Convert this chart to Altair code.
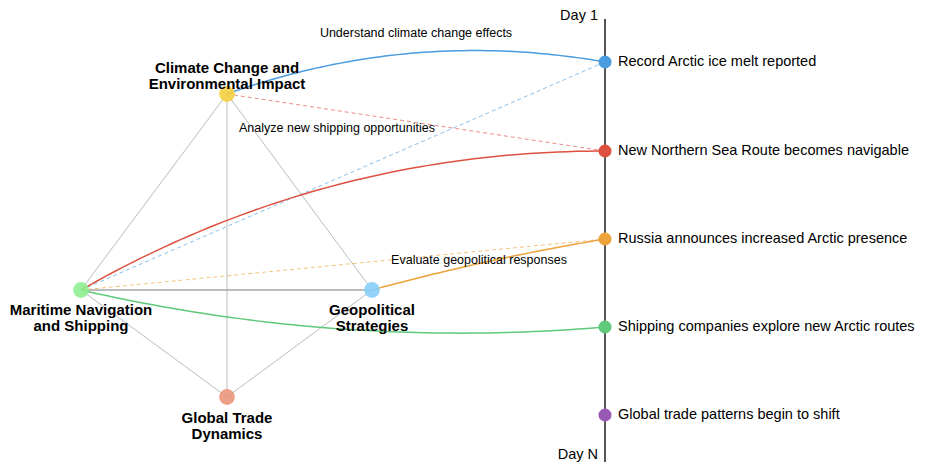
import altair as alt
import pandas as pd
import numpy as np

# ---------------- data ----------------
node_ids = ["climate", "maritime", "geopolitical", "trade"]
node_labels = [
    "Climate Change and\nEnvironmental Impact",
    "Maritime Navigation\nand Shipping",
    "Geopolitical\nStrategies",
    "Global Trade\nDynamics",
]
node_colors = ["#f4d03f", "#90ee90", "#87cefa", "#e9967a"]

event_labels = [
    "Record Arctic ice melt reported",
    "New Northern Sea Route becomes navigable",
    "Russia announces increased Arctic presence",
    "Shipping companies explore new Arctic routes",
    "Global trade patterns begin to shift",
]
event_colors = ["#4a9be0", "#de5040", "#eca33a", "#60c97a", "#9b59b6"]

edge_a = ["climate", "climate", "climate", "maritime", "maritime", "geopolitical"]
edge_b = ["maritime", "geopolitical", "trade", "geopolitical", "trade", "trade"]
edge_w = [1, 1, 1, 2, 1, 1]

link_source = ["climate", "maritime", "climate", "maritime", "maritime", "geopolitical", "maritime"]
link_event = [0, 0, 1, 1, 2, 2, 3]
link_style = ["solid", "dashed", "dashed", "solid", "dashed", "solid", "solid"]
link_label = ["Understand climate change effects", "", "", "Analyze new shipping opportunities",
              "", "Evaluate geopolitical responses", ""]

timeline_ends = ["Day 1", "Day N"]

# ---------------- layout ----------------
node_x = [227, 81, 372, 227]
node_y = [94, 290, 290, 397]
node_label_dy = [-26, 20, 20, 21]
timeline_x = 605
event_y = [62, 151, 239, 327, 415]
timeline_y = [19, 462]
day_label_y = [16, 455]
link_bend = [50, 0, 0, 72, 0, 6, -41]
link_label_xy = {0: (416, 33), 3: (337, 128), 5: (479, 260)}

W, H = 914, 470
xs = alt.Scale(domain=[8, 8 + W], nice=False, zero=False)
ys = alt.Scale(domain=[8, 8 + H], nice=False, zero=False, reverse=True)
X = lambda f="x": alt.X(f"{f}:Q", scale=xs, axis=None)
Y = lambda f="y": alt.Y(f"{f}:Q", scale=ys, axis=None)

pos = {n: (node_x[i], node_y[i]) for i, n in enumerate(node_ids)}

# grey edges
edge_rows = []
for i, (a, b) in enumerate(zip(edge_a, edge_b)):
    for k, n in enumerate((a, b)):
        edge_rows.append({"edge": i, "k": k, "x": pos[n][0], "y": pos[n][1], "w": edge_w[i]})
edges_df = pd.DataFrame(edge_rows)

# links
solid_rows, dash_rows, lab_rows = [], [], []
ts = np.linspace(0, 1, 60)
for i, (s, e) in enumerate(zip(link_source, link_event)):
    p0 = np.array(pos[s], dtype=float)
    p2 = np.array([timeline_x, event_y[e]], dtype=float)
    d = p2 - p0
    d = d / np.linalg.norm(d)
    perp = np.array([d[1], -d[0]])
    c = (p0 + p2) / 2 + link_bend[i] * perp
    col = event_colors[e]
    if link_style[i] == "solid":
        for t in ts:
            p = (1 - t) ** 2 * p0 + 2 * t * (1 - t) * c + t ** 2 * p2
            solid_rows.append({"link": i, "t": t, "x": p[0], "y": p[1], "color": col})
    else:
        for t in (0.0, 1.0):
            p = (1 - t) * p0 + t * p2
            dash_rows.append({"link": i, "t": t, "x": p[0], "y": p[1], "color": col})
    if link_label[i]:
        lx, ly = link_label_xy[i]
        lab_rows.append({"x": lx, "y": ly, "text": link_label[i]})
solid_df = pd.DataFrame(solid_rows)
dash_df = pd.DataFrame(dash_rows)
lab_df = pd.DataFrame(lab_rows)

nodes_df = pd.DataFrame({
    "x": node_x, "y": node_y, "color": node_colors, "label": node_labels,
    "ly": [y + dy for y, dy in zip(node_y, node_label_dy)],
})
events_df = pd.DataFrame({
    "x": [timeline_x] * len(event_labels), "y": event_y,
    "color": event_colors, "label": event_labels,
})
tl_df = pd.DataFrame({"x": [timeline_x], "y": [timeline_y[0]], "y2": [timeline_y[1]]})
day_df = pd.DataFrame({"x": [timeline_x - 7] * 2, "y": day_label_y, "text": timeline_ends})

FONT = "Liberation Sans"

edges = alt.Chart(edges_df).mark_line(color="#aaaaaa", opacity=0.8).encode(
    x=X(), y=Y(), detail="edge:N", order="k:Q",
    strokeWidth=alt.StrokeWidth("w:Q", scale=None))

dashed = alt.Chart(dash_df).mark_line(strokeWidth=1, strokeDash=[4, 3], opacity=0.65).encode(
    x=X(), y=Y(), detail="link:N", order="t:Q", color=alt.Color("color:N", scale=None))

solid = alt.Chart(solid_df).mark_line(strokeWidth=1.5).encode(
    x=X(), y=Y(), detail="link:N", order="t:Q", color=alt.Color("color:N", scale=None))

timeline = alt.Chart(tl_df).mark_rule(color="#555555", strokeWidth=2).encode(
    x=X(), y=Y(), y2="y2:Q")

nodes = alt.Chart(nodes_df).mark_circle(size=250, opacity=0.9).encode(
    x=X(), y=Y(), color=alt.Color("color:N", scale=None))

node_text = alt.Chart(nodes_df).mark_text(
    font=FONT, fontSize=15, fontWeight="bold", lineBreak="\n", lineHeight=16,
    align="center", baseline="middle", color="#000000").encode(
    x=X(), y=Y("ly"), text="label:N")

event_dots = alt.Chart(events_df).mark_circle(size=170, opacity=1).encode(
    x=X(), y=Y(), color=alt.Color("color:N", scale=None))

event_text = alt.Chart(events_df).mark_text(
    font=FONT, fontSize=14.5, align="left", baseline="middle", dx=13, color="#000000").encode(
    x=X(), y=Y(), text="label:N")

link_text = alt.Chart(lab_df).mark_text(
    font=FONT, fontSize=12.5, align="center", baseline="middle", color="#000000").encode(
    x=X(), y=Y(), text="text:N")

day_text = alt.Chart(day_df).mark_text(
    font=FONT, fontSize=14.5, align="right", baseline="middle", color="#000000").encode(
    x=X(), y=Y(), text="text:N")

chart = alt.layer(
    edges, dashed, solid, timeline, nodes, event_dots, node_text, event_text, link_text, day_text
).properties(width=W, height=H, padding=0, autosize="none").configure_view(stroke=None)

chart.save("out.html", embed_options={"renderer": "svg", "actions": False})
